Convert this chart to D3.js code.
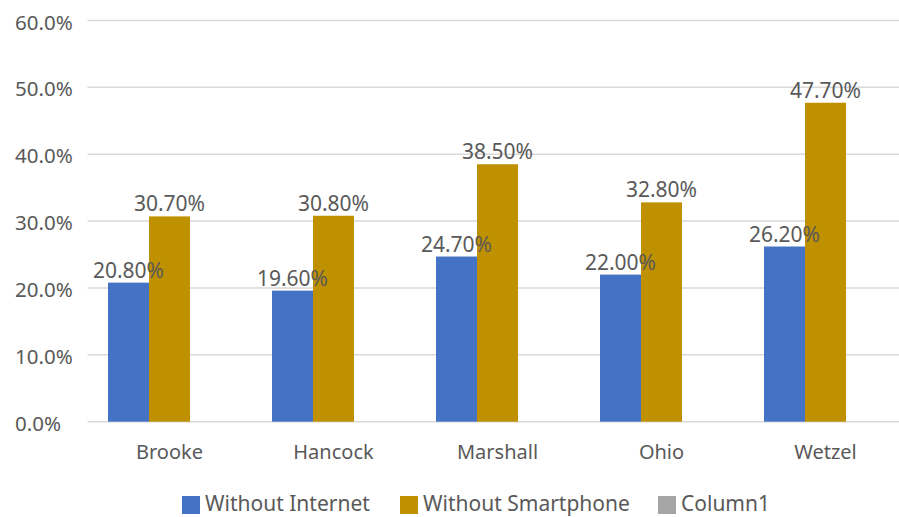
<!DOCTYPE html>
<html>
<head>
<meta charset="utf-8">
<script src="https://cdn.jsdelivr.net/npm/d3@7"></script>
<style>
  body { margin: 0; background: #fff; }
  svg { display: block; }
  text { font-family: "Noto Sans", "Open Sans", sans-serif; fill: #595959; }
</style>
</head>
<body>
<svg id="chart" width="899" height="517"></svg>
<script>
const counties = ['Brooke', 'Hancock', 'Marshall', 'Ohio', 'Wetzel'];
const withoutInternet = [20.8, 19.6, 24.7, 22.0, 26.2];
const withoutSmartphone = [30.7, 30.8, 38.5, 32.8, 47.7];
const column1 = [null, null, null, null, null];
const seriesNames = ['Without Internet', 'Without Smartphone', 'Column1'];
const seriesColors = ['#4472c4', '#bf9000', '#a5a5a5'];
const yTicks = [0, 10, 20, 30, 40, 50, 60];

const svg = d3.select('#chart');

// plot area (right side runs past the picture edge, as in the original)
const plotLeft = 87.5, plotRight = 907.5, plotTop = 20.5, plotBottom = 421.7;

const x = d3.scaleBand()
    .domain(counties)
    .range([plotLeft, plotRight])
    .paddingInner(0.25)
    .paddingOuter(0.125);

const xs = d3.scaleBand()
    .domain(seriesNames)
    .range([0, x.bandwidth()]);

const y = d3.scaleLinear()
    .domain([0, 60])
    .range([plotBottom, plotTop]);

// gridlines
svg.append('g')
    .selectAll('line')
    .data(yTicks)
    .enter()
    .append('line')
    .attr('x1', plotLeft)
    .attr('x2', plotRight)
    .attr('y1', (d) => y(d))
    .attr('y2', (d) => y(d))
    .attr('stroke', '#d9d9d9')
    .attr('stroke-width', 1.5)

// y tick labels
svg.append('g')
    .selectAll('text')
    .data(yTicks)
    .enter()
    .append('text')
    .attr('x', 15)
    .attr('y', (d) => y(d) + 9)
    .attr('font-size', 20.5)
    .text((d) => d.toFixed(1) + '%')

const allSeries = [withoutInternet, withoutSmartphone, column1];
const rowsOf = (values) => counties.map((c, k) => ({county: c, value: values[k]}))
                                   .filter((r) => r.value !== null)

// bars first, then all labels on top
const barLayer = svg.append('g')
const labelLayer = svg.append('g')

allSeries.forEach((values, i) => {
    let rows = rowsOf(values)
    barLayer.append('g')
        .selectAll('rect')
        .data(rows)
        .enter()
        .append('rect')
        .attr('x', (r) => x(r.county) + xs(seriesNames[i]))
        .attr('y', (r) => y(r.value))
        .attr('width', xs.bandwidth())
        .attr('height', (r) => y(0) - y(r.value))
        .attr('fill', seriesColors[i])
    labelLayer.append('g')
        .selectAll('text')
        .data(rows)
        .enter()
        .append('text')
        .attr('x', (r) => x(r.county) + xs(seriesNames[i]) + xs.bandwidth() / 2)
        .attr('y', (r) => y(r.value) - 5)
        .attr('text-anchor', 'middle')
        .attr('font-size', 21)
        .text((r) => r.value.toFixed(2) + '%')
})

// category labels
svg.append('g')
    .selectAll('text')
    .data(counties)
    .enter()
    .append('text')
    .attr('x', (c) => x(c) + x.bandwidth() / 2)
    .attr('y', 459)
    .attr('text-anchor', 'middle')
    .attr('font-size', 20)
    .text((c) => c)

// legend
const legendX = [182, 400, 658];
let legend = svg.append('g')
    .selectAll('g')
    .data(seriesNames)
    .enter()
    .append('g')
    .attr('transform', (d, i) => 'translate(' + legendX[i] + ', 496)')
legend.append('rect')
    .attr('width', 18)
    .attr('height', 18)
    .attr('fill', (d, i) => seriesColors[i])
legend.append('text')
    .attr('x', 23)
    .attr('y', 15)
    .attr('font-size', 21)
    .text((d) => d)
</script>
</body>
</html>
